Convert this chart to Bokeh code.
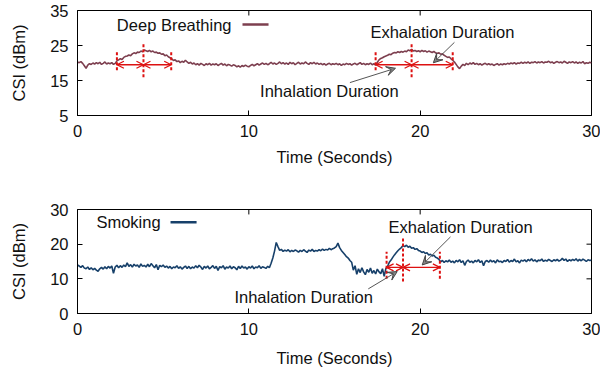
import numpy as np
from bokeh.plotting import figure
from bokeh.models import FixedTicker, Range1d, Arrow, VeeHead, OpenHead, Label
from bokeh.layouts import column
from bokeh.embed import file_html
from bokeh.resources import INLINE

# ---------------- data ----------------
time_step = 0.1  # seconds between samples

breathing_csi = [
    20.3, 20.1, 20.4, 19.9, 19.2, 18.5, 19.4, 19.8, 19.6, 20.0,
    19.7, 20.1, 19.8, 20.2, 19.6, 19.9, 20.3, 19.7, 20.0, 19.8,
    20.1, 19.6, 19.9, 20.6, 20.9, 21.2, 21.0, 21.6, 21.9, 22.0,
    22.3, 22.1, 22.6, 22.9, 22.7, 23.1, 23.0, 23.4, 23.2, 23.7,
    23.5, 23.3, 23.6, 23.2, 23.4, 23.0, 23.1, 22.8, 22.9, 22.5,
    22.6, 22.1, 22.3, 21.8, 21.5, 21.2, 20.7, 20.9, 20.4, 20.6,
    20.1, 20.5, 20.2, 20.8, 20.3, 19.9, 20.2, 19.7, 20.0, 19.5,
    19.8, 19.4, 19.9, 19.6, 19.3, 19.8, 19.5, 19.9, 19.4, 19.7,
    19.5, 19.8, 19.3, 19.6, 19.9, 19.4, 19.7, 19.2, 19.6, 19.4,
    19.1, 19.5, 19.3, 18.9, 19.2, 18.8, 19.3, 19.0, 19.4, 19.1,
    18.9, 19.3, 19.6, 19.2, 19.5, 19.8, 19.4, 19.7, 20.0, 19.6,
    19.9, 19.5, 19.8, 20.2, 19.7, 20.0, 19.6, 19.9, 20.3, 19.8,
    20.1, 19.7, 20.0, 19.6, 20.2, 19.8, 20.1, 19.5, 19.9, 20.2,
    19.7, 20.0, 19.8, 20.3, 19.9, 19.6, 20.1, 19.8, 20.2, 19.7,
    20.0, 19.6, 19.9, 19.5, 19.8, 19.4, 19.7, 19.9, 19.5, 19.8,
    19.6, 19.9, 19.5, 19.8, 19.3, 19.7, 19.5, 19.9, 19.6, 19.8,
    19.4, 19.7, 19.9, 19.5, 19.8, 20.1, 19.6, 19.9, 19.5, 19.8,
    19.6, 20.0, 19.5, 19.8, 19.4, 20.2, 20.9, 21.3, 21.5, 21.8,
    22.0, 22.2, 22.5, 22.4, 22.8, 23.0, 22.9, 23.2, 23.0, 23.3,
    23.1, 23.4, 23.2, 23.7, 23.5, 23.9, 23.4, 23.6, 23.3, 23.5,
    23.2, 23.6, 23.3, 23.5, 23.1, 23.4, 23.2, 23.0, 23.3, 22.9,
    22.8, 22.9, 22.5, 22.6, 22.2, 21.9, 21.6, 21.7, 21.2, 20.8,
    20.3, 19.6, 18.9, 18.4, 19.1, 19.6, 19.3, 19.9, 19.5, 20.0,
    19.7, 20.1, 19.6, 19.9, 19.5, 19.8, 19.4, 19.7, 19.9, 19.5,
    19.8, 19.5, 19.7, 19.3, 19.6, 19.8, 19.4, 19.7, 19.5, 19.8,
    19.6, 19.9, 19.7, 20.0, 19.8, 20.1, 19.7, 20.0, 19.9, 20.2,
    19.9, 20.2, 20.0, 20.3, 19.9, 20.2, 20.1, 20.4, 20.0, 20.3,
    20.1, 20.4, 20.0, 20.3, 20.2, 20.5, 20.1, 20.3, 19.9, 20.2,
    20.4, 20.1, 20.3, 20.0, 20.5, 20.2, 19.9, 20.3, 20.1, 20.4,
    20.0, 20.3, 19.9, 20.2, 20.0, 20.4, 19.8, 20.1, 19.9, 20.2,
    20.0,
]

smoking_csi = [
    14.0, 13.7, 13.3, 13.8, 13.1, 12.9, 13.4, 12.7, 13.2, 12.6,
    13.0, 12.5, 12.2, 12.9, 13.3, 12.8, 13.5, 12.9, 13.6, 13.1,
    13.7, 11.6, 13.4, 13.9, 13.2, 13.8, 13.3, 14.0, 13.5, 14.6,
    13.6, 14.1, 13.4, 14.2, 13.7, 14.0, 13.3, 14.3, 13.6, 13.9,
    13.4, 14.2, 13.5, 14.4, 13.8, 13.2, 14.1, 12.6, 13.9, 13.5,
    14.0, 13.3, 13.7, 13.1, 13.6, 12.9, 13.4, 13.2, 13.8, 13.0,
    13.5, 12.8, 13.3, 13.7, 13.0, 13.6, 12.9, 13.4, 13.1, 13.8,
    13.2, 13.9, 13.4, 12.7, 13.6, 13.1, 13.7, 12.9, 13.3, 13.8,
    13.0, 13.6, 12.4, 13.5, 13.2, 13.8, 12.8, 13.4, 13.1, 13.7,
    12.9, 13.5, 13.2, 12.6, 13.6, 13.0, 13.7, 13.1, 13.4, 12.8,
    13.5, 13.1, 13.7, 12.9, 13.4, 13.2, 13.8, 13.0, 13.5, 13.3,
    13.0, 13.6, 13.2, 14.5, 16.0, 18.0, 20.5, 19.3, 18.2, 18.5,
    17.9, 18.3, 18.0, 18.4, 17.8, 18.2, 17.9, 18.3, 18.1, 17.7,
    18.2, 17.9, 18.4, 18.0, 17.6, 18.3, 18.0, 18.5, 17.9, 18.2,
    18.0, 18.4, 18.1, 18.6, 18.2, 18.5, 18.3, 18.8, 18.4, 18.7,
    18.9, 19.3, 20.3, 19.0, 18.2, 17.6, 17.0, 16.4, 16.0, 15.3,
    14.8, 12.5, 13.8, 11.3, 12.9, 11.8, 13.2, 12.0, 11.2, 12.7,
    11.9, 13.1, 11.6, 12.4, 11.4, 12.8, 12.0, 11.5, 12.9, 10.7,
    13.0, 13.6, 14.8, 15.4, 16.2, 16.9, 17.5, 18.1, 18.6, 19.0,
    19.6, 19.3, 19.7, 19.1, 19.4, 18.8, 19.0, 18.5, 18.7, 18.2,
    18.0, 17.6, 17.8, 17.3, 17.5, 16.9, 17.1, 16.6, 16.8, 16.2,
    16.0, 15.6, 14.9, 15.3, 14.7, 15.2, 14.9, 15.4, 14.8, 15.1,
    14.6, 15.3, 14.9, 15.5, 14.7, 15.2, 13.9, 15.0, 15.4, 14.8,
    15.1, 14.6, 15.3, 14.9, 15.5, 14.7, 15.2, 13.8, 15.0, 15.3,
    14.8, 15.4, 14.9, 15.2, 14.6, 15.5, 14.9, 15.1, 14.7, 15.3,
    15.0, 15.6, 14.8, 15.3, 15.0, 15.7, 14.9, 15.2, 14.6, 15.4,
    15.1, 15.5, 14.9, 15.6, 15.2, 15.8, 15.1, 15.5, 14.9, 15.4,
    15.2, 15.7, 15.0, 15.4, 15.1, 15.6, 15.3, 15.0, 15.5, 15.2,
    15.6, 15.1, 15.4, 15.9, 15.3, 15.7, 15.0, 15.5, 15.2, 15.6,
    15.3, 15.8, 15.1, 15.6, 15.2, 15.7, 15.4, 15.0, 15.5, 15.3,
    15.4,
]

x_ticks = [0, 10, 20, 30]
breathing_y_ticks = [5, 15, 25, 35]
smoking_y_ticks = [0, 10, 20, 30]

# breath phase markers: start, switch, end (seconds)
breathing_marks = [2.3, 3.85, 5.47, 17.4, 19.5, 21.9]
breathing_mark_level = 19.5
smoking_marks = [18.04, 19.0, 21.15]
smoking_mark_level = 13.3

BREATH_COLOR = "#7d3f4f"
SMOKE_COLOR = "#17406a"
RED = "#dd1111"
FONT = "Liberation Sans"
FS = "16.5px"
FRAME_W = 514
FRAME_H = 105
TICK_PX = 5


def make_fig(height, b_top, b_bottom, y_lo, y_hi, yticks, x_label_standoff):
    p = figure(width=600, height=height, x_range=Range1d(0, 30), y_range=Range1d(y_lo, y_hi),
               output_backend="svg", toolbar_location=None,
               min_border_left=77, min_border_right=9, min_border_top=b_top,
               min_border_bottom=b_bottom,
               x_axis_label="Time (Seconds)", y_axis_label="CSI (dBm)")
    p.grid.visible = False
    p.outline_line_color = "black"
    p.outline_line_alpha = 1.0
    p.outline_line_width = 1
    p.background_fill_color = "white"
    p.border_fill_color = "white"
    p.xaxis.ticker = FixedTicker(ticks=x_ticks)
    p.yaxis.ticker = FixedTicker(ticks=yticks)
    for ax in (p.xaxis[0], p.yaxis[0]):
        ax.major_tick_in = TICK_PX
        ax.major_tick_out = 0
        ax.minor_tick_in = 0
        ax.minor_tick_out = 0
        ax.axis_line_color = "black"
        ax.major_tick_line_color = "black"
        ax.major_label_text_font = FONT
        ax.major_label_text_font_size = FS
        ax.major_label_text_color = "#111111"
        ax.axis_label_text_font = FONT
        ax.axis_label_text_font_size = FS
        ax.axis_label_text_font_style = "normal"
        ax.axis_label_text_color = "#111111"
    p.xaxis.major_label_standoff = 9
    p.xaxis.axis_label_standoff = x_label_standoff
    p.yaxis.major_label_standoff = 9
    p.yaxis.axis_label_standoff = 19
    # mirrored inward ticks on the top and right edges of the frame
    dy = (y_hi - y_lo) / FRAME_H * TICK_PX
    dx = 30.0 / FRAME_W * TICK_PX
    inner_x = [t for t in x_ticks if 0 < t < 30]
    inner_y = [t for t in yticks if y_lo < t < y_hi]
    p.segment(x0=inner_x, y0=[y_hi] * len(inner_x), x1=inner_x, y1=[y_hi - dy] * len(inner_x),
              line_color="black", line_width=1)
    p.segment(x0=[30] * len(inner_y), y0=inner_y, x1=[30 - dx] * len(inner_y), y1=inner_y,
              line_color="black", line_width=1)
    return p


def add_markers(p, marks, level, lo_side, hi_side, lo_mid, hi_mid):
    for i in range(0, len(marks), 3):
        a, m, b = marks[i], marks[i + 1], marks[i + 2]
        p.segment(x0=[a, b], y0=[lo_side, lo_side], x1=[a, b], y1=[hi_side, hi_side],
                  line_color=RED, line_width=2, line_dash="3 2")
        p.segment(x0=[m], y0=[lo_mid], x1=[m], y1=[hi_mid],
                  line_color=RED, line_width=2, line_dash="3 2")
        for s, e in ((a, m), (m, b)):
            p.add_layout(Arrow(x_start=s, y_start=level, x_end=e, y_end=level,
                               line_color=RED, line_width=1.3,
                               start=OpenHead(size=7, line_color=RED, line_width=1.3),
                               end=OpenHead(size=7, line_color=RED, line_width=1.3)))


def add_note(p, text, tx, ty, x0, y0, x1, y1):
    p.add_layout(Label(x=tx, y=ty, text=text, text_font=FONT, text_font_size=FS,
                       text_align="center", text_baseline="middle", text_color="#111111"))
    p.add_layout(Arrow(x_start=x0, y_start=y0, x_end=x1, y_end=y1,
                       line_color="#555555", line_width=1,
                       end=VeeHead(size=9, fill_color="#888888", line_color="#444444",
                                   line_width=1)))


def add_legend(p, text, tx, ty, lx0, lx1, color):
    p.add_layout(Label(x=tx, y=ty, text=text, text_font=FONT, text_font_size=FS,
                       text_align="right", text_baseline="middle", text_color="#111111"))
    p.segment(x0=[lx0], y0=[ty], x1=[lx1], y1=[ty], line_color=color, line_width=2.5)


t_b = [i * time_step for i in range(len(breathing_csi))]
t_s = [i * time_step for i in range(len(smoking_csi))]

# ---------------- top: deep breathing ----------------
p1 = make_fig(185, 10, 70, 5, 35, breathing_y_ticks, 8)
p1.line(t_b, breathing_csi, line_color=BREATH_COLOR, line_width=1.6)
add_markers(p1, breathing_marks, breathing_mark_level, 17.9, 23.6, 15.9, 25.9)
add_note(p1, "Exhalation Duration", 21.3, 28.8, 22.0, 25.9, 20.77, 20.06)
add_note(p1, "Inhalation Duration", 14.7, 12.1, 15.9, 14.4, 18.56, 18.5)
add_legend(p1, "Deep Breathing", 8.99, 31.0, 9.63, 11.15, BREATH_COLOR)

# ---------------- bottom: smoking ----------------
p2 = make_fig(184, 24, 55, 0, 30, smoking_y_ticks, 11)
p2.line(t_s, smoking_csi, line_color=SMOKE_COLOR, line_width=1.6)
add_markers(p2, smoking_marks, smoking_mark_level, 10.0, 17.8, 9.2, 21.8)
add_note(p2, "Exhalation Duration", 22.36, 24.9, 21.77, 22.1, 20.12, 14.0)
add_note(p2, "Inhalation Duration", 13.2, 4.9, 16.97, 7.1, 18.66, 12.1)
add_legend(p2, "Smoking", 4.85, 26.3, 5.43, 6.95, SMOKE_COLOR)

layout = column(p1, p2, spacing=0)
open("out.html", "w").write(file_html(layout, INLINE))
